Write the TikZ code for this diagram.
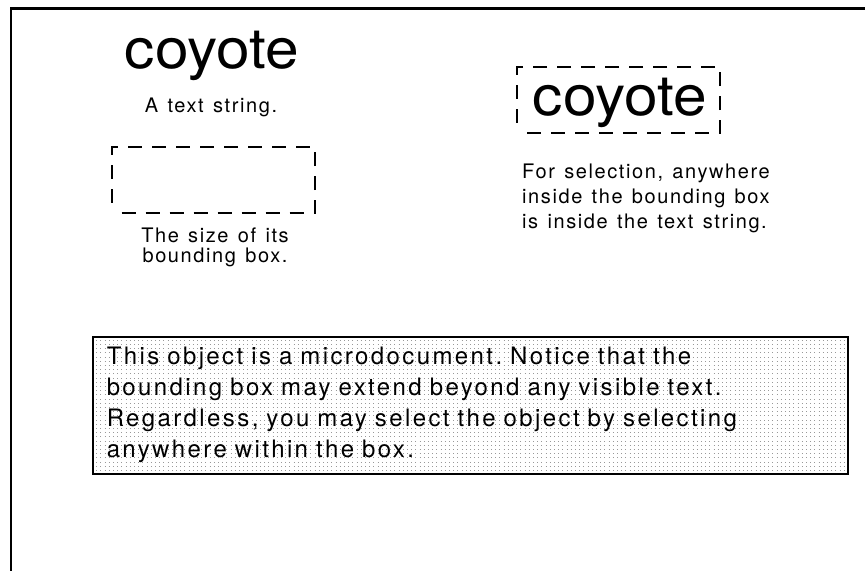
\documentclass[tikz,border=0pt]{standalone}
\usepackage{fontspec}
\setmainfont{TeX Gyre Heros}
\newfontfamily\macfont[LetterSpace=8,WordSpace=1.3]{TeX Gyre Heros}
\newfontfamily\docfont[LetterSpace=10,WordSpace=1.3]{TeX Gyre Heros}
\newfontfamily\wordfont[FakeStretch=1.08]{TeX Gyre Heros}
\usetikzlibrary{positioning, backgrounds, decorations}
\frenchspacing

\begin{document}
\begin{tikzpicture}[x=1pt, y=-1pt,
			frame/.style={line width=2.5pt, draw=black},
			word/.style={inner sep=0pt, anchor=base, font=\wordfont\fontsize{56}{60}\selectfont},
			caption/.style={inner sep=0pt, align=center, font=\macfont\fontsize{20}{20}\selectfont},
			bbox/.style={draw, line width=2pt, dash pattern=on 14pt off 10pt, dash expand off, minimum width=203pt, minimum height=66pt, inner sep=0pt},
			microdoc/.style={draw, line width=1.5pt, anchor=north west, minimum width=755pt, minimum height=137pt, text width=727pt, inner xsep=14pt, align=left, font=\docfont\fontsize{24}{31}\selectfont},
			dotrow/.style={draw=gray!80, line width=1pt, dash pattern=on 1pt off 3.2pt}
			]
			\useasboundingbox (0,0) rectangle (865,571);
			
			% Rahmen oben und links
			\draw[frame] (865,8.5) -| (11,571);
			
			% Linke Spalte: Textstring und seine Box
			\node[word]    (coyoteL)  at (212,68)   {coyote};
			\node[caption, anchor=base] (stringLbl) at (211,112) {A text string.};
			\node[bbox]    (sizeBox)  at (213,180)  {};
			\node[caption, anchor=north] (sizeLbl) at (215,227.5) {The size of its\\bounding box.};
			
			% Rechte Spalte: Auswahl
			\node[bbox]    (selBox)   at (618.5,100) {};
			\node[word]    (coyoteR)  at (620,115)   {coyote};
			\node[caption, anchor=north west, align=left, font=\macfont\fontsize{20}{25}\selectfont] (selLbl) at (522,163.5)
				{For selection, anywhere\\inside the bounding box\\is inside the text string.};
			
			% Mikrodokument
			\node[microdoc] (doc) at (92,336) {This object is a microdocument. Notice that the\\bounding box may extend beyond any visible text.\\Regardless, you may select the object by selecting\\anywhere within the box.};
			
			\begin{scope}[on background layer]
				\clip (doc.north west) rectangle (doc.south east);
				\foreach \r in {1,...,33}
					\draw[dotrow] ([yshift=-\r*4.2pt]doc.north west) -- ([yshift=-\r*4.2pt]doc.north east);
			\end{scope}
			
		\end{tikzpicture}
\end{document}
